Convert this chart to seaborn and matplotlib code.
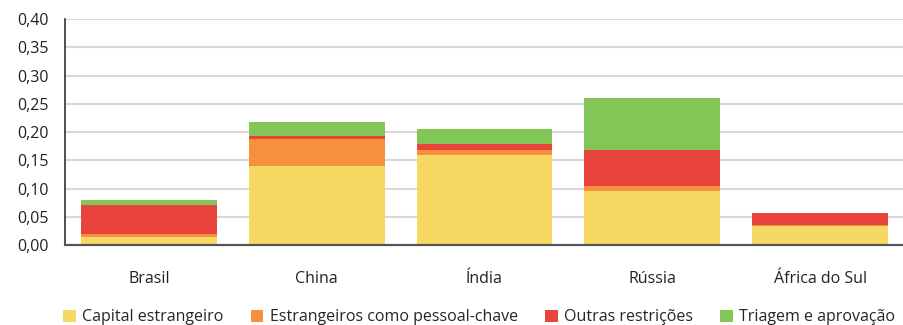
import numpy as np
import pandas as pd
import matplotlib
matplotlib.use("Agg")
import matplotlib.pyplot as plt
import seaborn as sns
from matplotlib.ticker import FuncFormatter, FixedLocator
from matplotlib.patches import Patch

countries = ["Brasil", "China", "Índia", "Rússia", "África do Sul"]
series = ["Capital estrangeiro", "Estrangeiros como pessoal-chave",
          "Outras restrições", "Triagem e aprovação"]
capital = [0.015, 0.140, 0.160, 0.095, 0.034]
pessoal = [0.005, 0.048, 0.008, 0.009, 0.001]
outras = [0.050, 0.005, 0.011, 0.064, 0.022]
triagem = [0.010, 0.025, 0.026, 0.092, 0.000]
colors = ["#F6D962", "#F78F3F", "#E8443C", "#84C557"]

sns.set_theme(style="white")
plt.rcParams["font.family"] = ["Open Sans", "DejaVu Sans"]

df = pd.DataFrame({"País": countries, series[0]: capital, series[1]: pessoal,
                   series[2]: outras, series[3]: triagem})
cum = df[series].cumsum(axis=1)

fig = plt.figure(figsize=(9.04, 3.25), dpi=100)
ax = fig.add_axes([0.072, 0.246, 0.928, 0.6955])

# stacked: draw cumulative totals from top layer down
for s, c in reversed(list(zip(series, colors))):
    sns.barplot(x=df["País"], y=cum[s], color=c, width=0.81, ax=ax,
                saturation=1, edgecolor="none", linewidth=0, zorder=2)

ax.set_ylim(0, 0.40)
ax.set_xlim(-0.5, 4.5)
ax.set_yticks(np.arange(0, 0.401, 0.05))
ax.yaxis.set_major_formatter(FuncFormatter(lambda v, p: f"{v:.2f}".replace(".", ",")))
ax.grid(axis="y", color="#d9d9d9", linewidth=1.5, zorder=0)
ax.set_axisbelow(True)
ax.set_xlabel("")
ax.set_ylabel("")

for sp in ["top", "right"]:
    ax.spines[sp].set_visible(False)
ax.spines["left"].set_color("#333333")
ax.spines["left"].set_linewidth(1.2)
ax.spines["bottom"].set_color("#555555")
ax.spines["bottom"].set_linewidth(1.6)

ax.tick_params(axis="y", length=9, width=1.2, color="#555555", labelsize=11.5,
               labelcolor="#222222", pad=3)
ax.tick_params(axis="x", which="major", length=0, labelsize=11.5,
               labelcolor="#222222", pad=19)
ax.xaxis.set_minor_locator(FixedLocator(np.arange(-0.5, 4.6, 1.0)))
ax.tick_params(axis="x", which="minor", length=9, width=1.2, color="#666666")

handles = [Patch(facecolor=c, edgecolor="none", label=s) for s, c in zip(series, colors)]
fig.legend(handles=handles, loc="lower center", ncol=4, frameon=False,
           bbox_to_anchor=(0.53, -0.045), fontsize=11.5, handlelength=0.8,
           handleheight=0.8, handletextpad=0.4, columnspacing=1.7)

fig.savefig("out.png", dpi=100)
